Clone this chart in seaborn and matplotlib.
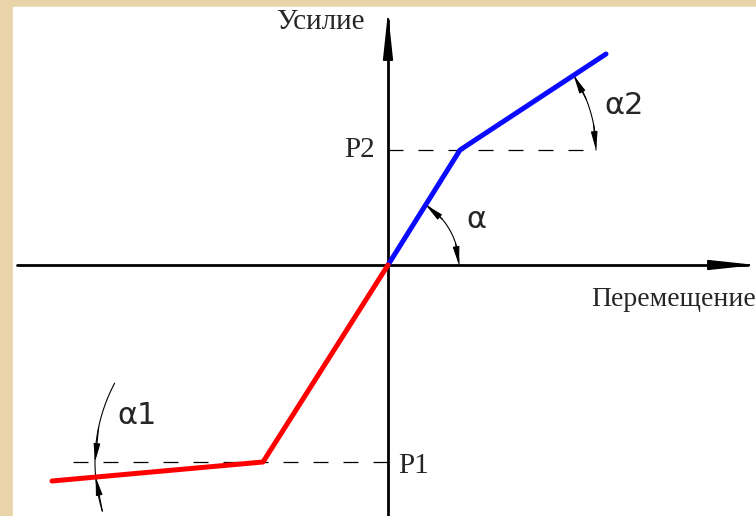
import numpy as np
import pandas as pd
import matplotlib
matplotlib.use("Agg")
import matplotlib.pyplot as plt
import seaborn as sns

sns.set_style("white")

# force-displacement diagram, origin at axis crossing (units ~ pixels)
disp_pos = [0, 72, 218]
force_pos = [0, 115, 211]
disp_neg = [0, -125, -336]
force_neg = [0, -197, -216]
P2 = 115
P1 = -197
labels_axes = ["Усилие", "Перемещение"]
labels_levels = ["P2", "P1"]
labels_angles = ["α", "α1", "α2"]

fig = plt.figure(figsize=(7.56, 5.16), dpi=100)
fig.patch.set_facecolor("#e9d4aa")
ax = fig.add_axes([0, 0, 1, 1])
ax.set_xlim(-388, 368)
ax.set_ylim(-251, 265)
ax.axis("off")

# white drawing sheet
ax.add_patch(plt.Rectangle((-375, -260), 800, 518, color="white", zorder=0))

serif = "Liberation Serif"

# axes: line + thin arrow head
ax.plot([-371, 360], [0, 0], color="k", lw=2.0, zorder=1)
ax.plot([0, 0], [-260, 245], color="k", lw=2.0, zorder=1)
head = dict(arrowstyle="-|>,head_length=1.5,head_width=0.16", lw=1.0, color="k",
            mutation_scale=20, shrinkA=0, shrinkB=0)
ax.annotate("", xy=(368, 0), xytext=(330, 0), arrowprops=head)
ax.annotate("", xy=(0, 253), xytext=(0, 215), arrowprops=head)

# dashed levels
ax.plot([0, 208], [P2, P2], color="k", lw=0.9, dashes=(12, 12), zorder=1)
ax.plot([-315, 0], [P1, P1], color="k", lw=0.9, dashes=(12, 12), zorder=1)

# curves
sns.lineplot(x=disp_pos, y=force_pos, sort=False, estimator=None, color="#0a0aff",
             lw=3.6, ax=ax, zorder=3)
sns.lineplot(x=disp_neg, y=force_neg, sort=False, estimator=None, color="#ff0000",
             lw=3.6, ax=ax, zorder=3)


def arc(cx, cy, r, a0, a1):
    t = np.radians(np.linspace(a0, a1, 80))
    ax.plot(cx + r * np.cos(t), cy + r * np.sin(t), color="k", lw=0.8, zorder=2)


def tip(cx, cy, r, a_from, a_to):
    t0, t1 = np.radians(a_from), np.radians(a_to)
    ax.annotate("", xy=(cx + r * np.cos(t1), cy + r * np.sin(t1)),
                xytext=(cx + r * np.cos(t0), cy + r * np.sin(t0)),
                arrowprops=dict(arrowstyle="-|>,head_length=1.1,head_width=0.2",
                                color="k", lw=0.8, mutation_scale=10,
                                shrinkA=0, shrinkB=0))


# angle alpha
arc(0, 0, 71, 0, 58)
tip(0, 0, 71, 40, 58)
tip(0, 0, 71, 18, 0)

# angle alpha2
k2x, k2y = disp_pos[1], force_pos[1]
arc(k2x, k2y, 136, 0, 33.3)
tip(k2x, k2y, 136, 22, 33.3)
tip(k2x, k2y, 136, 11, 0)

# angle alpha1
k1x, k1y = disp_neg[1], force_neg[1]
arc(k1x, k1y, 168, 152, 197)
tip(k1x, k1y, 168, 168, 180)
tip(k1x, k1y, 168, 197, 185.1)

# texts
ax.text(-68, 243, labels_axes[0], family=serif, fontsize=21, ha="center", va="center")
ax.text(286, -35, labels_axes[1], family=serif, fontsize=20, ha="center", va="center")
ax.text(-13, P2, labels_levels[0], family=serif, fontsize=21, ha="right", va="center")
ax.text(10, P1 - 4, labels_levels[1], family=serif, fontsize=21, ha="left", va="center")
ax.text(88, 45, labels_angles[0], fontsize=22, ha="center", va="center")
ax.text(-251, -150, labels_angles[1], fontsize=22, ha="center", va="center")
ax.text(236, 160, labels_angles[2], fontsize=22, ha="center", va="center")

fig.savefig("out.png", dpi=100, facecolor=fig.get_facecolor())
